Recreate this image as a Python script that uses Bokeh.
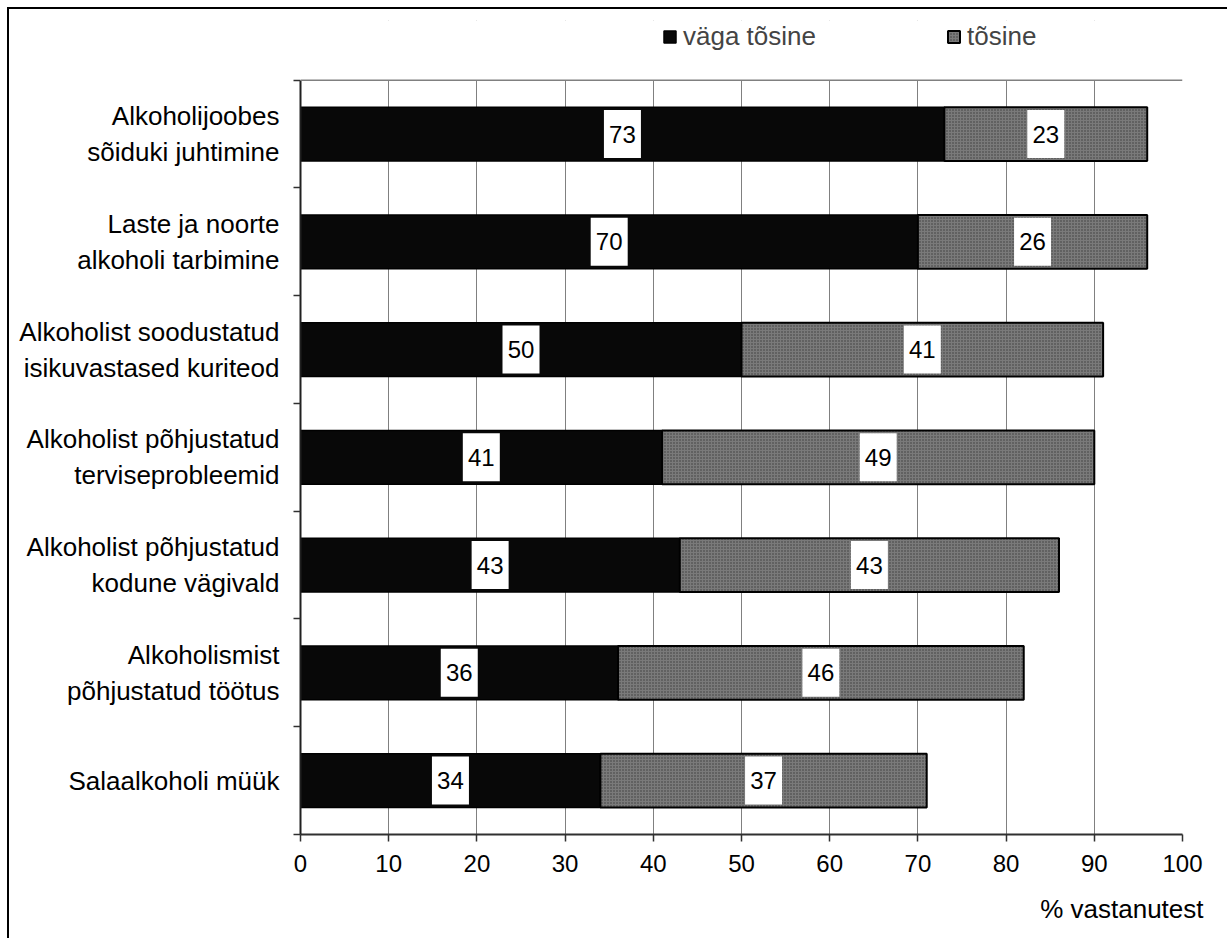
from bokeh.plotting import figure
from bokeh.models import (Range1d, LinearAxis, FixedTicker, Title, BoxAnnotation, Span,
                          Legend, LegendItem, ColumnDataSource)
from bokeh.core.properties import value
from bokeh.embed import file_html
from bokeh.resources import INLINE

categories = [
    "Alkoholijoobes\nsõiduki juhtimine",
    "Laste ja noorte\nalkoholi tarbimine",
    "Alkoholist soodustatud\nisikuvastased kuriteod",
    "Alkoholist põhjustatud\nterviseprobleemid",
    "Alkoholist põhjustatud\nkodune vägivald",
    "Alkoholismist\npõhjustatud töötus",
    "Salaalkoholi müük",
]
very_serious = [73, 70, 50, 41, 43, 36, 34]
serious = [23, 26, 41, 49, 43, 46, 37]
x_ticks = [0, 10, 20, 30, 40, 50, 60, 70, 80, 90, 100]
series_names = ["väga tõsine", "tõsine"]
x_title = "% vastanutest"

FONT = "Liberation Sans"
n = len(categories)
ypos = [n - 1 - i + 0.5 for i in range(n)]   # first category at top
LEGEND_BAND = 0.554                          # room above the plot area for the legend

total = [a + b for a, b in zip(very_serious, serious)]
src = ColumnDataSource(dict(
    y=ypos,
    v1=very_serious,
    tot=total,
    mid1=[a / 2 for a in very_serious],
    mid2=[a + b / 2 for a, b in zip(very_serious, serious)],
    lab1=[str(a) for a in very_serious],
    lab2=[str(b) for b in serious],
))

p = figure(width=1220, height=931,
           x_range=Range1d(0, 100),
           y_range=Range1d(0, n + LEGEND_BAND),
           output_backend="svg", toolbar_location=None,
           y_axis_location=None,
           min_border_left=291, min_border_right=47,
           min_border_top=11, min_border_bottom=102)
p.styles = {"margin-left": "7px", "margin-top": "7px",
            "border-left": "2px solid black", "border-top": "2px solid black"}
p.outline_line_color = None
p.background_fill_color = "white"
p.border_fill_color = "white"

# x axis
xa = p.xaxis[0]
xa.ticker = FixedTicker(ticks=x_ticks)
xa.major_tick_out = 7
xa.major_tick_in = 0
xa.minor_tick_line_color = None
xa.axis_line_color = "#303030"
xa.axis_line_width = 2
xa.major_tick_line_color = "#303030"
xa.major_tick_line_width = 1.5
xa.major_label_text_font_size = "24px"
xa.major_label_text_font = FONT
xa.major_label_text_color = "black"
xa.major_label_standoff = 13

p.xgrid.ticker = FixedTicker(ticks=x_ticks)
p.xgrid.grid_line_color = "#808080"
p.xgrid.grid_line_width = 1
p.ygrid.grid_line_color = None

# x axis title, right aligned below the axis
xt = Title(text=x_title, align="right", offset=-21, standoff=34,
           text_font=FONT, text_font_size="26px", text_font_style="normal",
           text_color="black")
p.add_layout(xt, "below")

# y axes: boundary ticks closest to frame, category labels further out
ytick_axis = LinearAxis(ticker=FixedTicker(ticks=list(range(n + 1))),
                        bounds=(0, n),
                        major_tick_out=7, major_tick_in=0,
                        major_tick_line_color="#303030", major_tick_line_width=1.5,
                        minor_tick_line_color=None,
                        axis_line_color="#202020", axis_line_width=2,
                        major_label_text_font_size="0px", major_label_standoff=0,
                        major_label_overrides={i: "" for i in range(n + 1)})
p.add_layout(ytick_axis, "left")
ylab_axis = LinearAxis(ticker=FixedTicker(ticks=ypos),
                       major_label_overrides={y: c for y, c in zip(ypos, categories)},
                       major_tick_line_color=None, minor_tick_line_color=None,
                       axis_line_color=None,
                       major_label_text_font=FONT,
                       major_label_text_font_size="26px",
                       major_label_text_color="black",
                       major_label_standoff=8)
p.add_layout(ylab_axis, "left")

r1 = p.hbar(y="y", left=0, right="v1", height=0.5, source=src,
            fill_color="#080808", line_color="black", line_width=1.5)
r2 = p.hbar(y="y", left="v1", right="tot", height=0.5, source=src,
            fill_color="#7a7a7a", line_color="black", line_width=2,
            hatch_pattern="dot", hatch_color="#3a3a3a", hatch_scale=3, hatch_weight=1)

for mid, lab in (("mid1", "lab1"), ("mid2", "lab2")):
    p.rect(x=mid, y="y", width=37, height=48, width_units="screen", height_units="screen",
           source=src, fill_color="white", line_color=None)
    p.text(x=mid, y="y", text=lab, source=src, text_align="center", text_baseline="middle",
           text_font=value(FONT), text_font_size="24px", text_color="black")

# white band above the plot area (holds the legend) and the plot area's top edge
p.add_layout(BoxAnnotation(bottom=n, fill_color="white", fill_alpha=1, line_color=None))
p.add_layout(Span(location=n, dimension="width", line_color="#808080", line_width=1.5))

legend = Legend(items=[LegendItem(label=series_names[0], renderers=[r1]),
                       LegendItem(label=series_names[1], renderers=[r2])],
                orientation="horizontal", location=(362, 782),
                border_line_color=None, background_fill_alpha=0,
                padding=0, margin=0, spacing=130,
                glyph_width=15, glyph_height=15, label_standoff=6,
                label_text_font=FONT, label_text_font_size="26px", label_height=30)
p.add_layout(legend, "center")

open("out.html", "w").write(file_html(p, INLINE))
